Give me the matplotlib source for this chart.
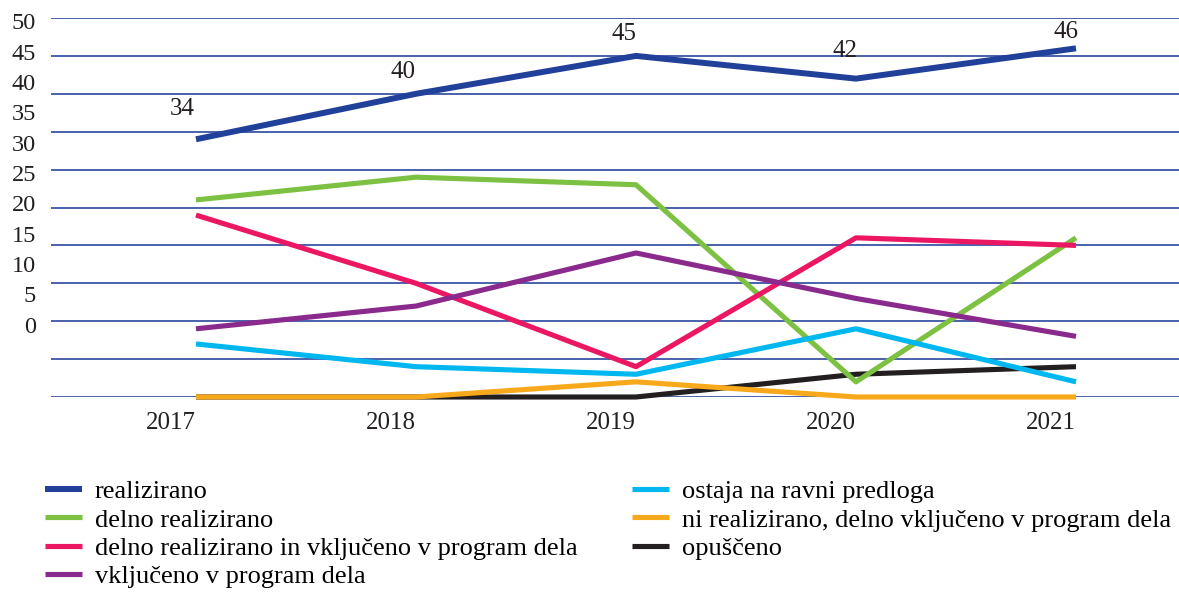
import matplotlib.pyplot as plt

years = ["2017", "2018", "2019", "2020", "2021"]

realizirano = [34, 40, 45, 42, 46]
delno_realizirano = [26, 29, 28, 2, 21]
delno_in_program = [24, 15, 4, 21, 20]
v_program = [9, 12, 19, 13, 8]
ostaja = [7, 4, 3, 9, 2]
ni_realizirano = [0, 0, 2, 0, 0]
opusceno = [0, 0, 0, 3, 4]

series = [
    ("realizirano", realizirano, "#21409a", 4.3, 5),
    ("delno realizirano", delno_realizirano, "#7cc142", 3.7, 4),
    ("delno realizirano in vključeno v program dela", delno_in_program, "#ec1763", 3.7, 4),
    ("vključeno v program dela", v_program, "#8a2a8c", 3.7, 4),
    ("ostaja na ravni predloga", ostaja, "#00b7ef", 3.7, 4),
    ("ni realizirano, delno vključeno v program dela", ni_realizirano, "#f8a81b", 3.7, 4),
    ("opuščeno", opusceno, "#231f20", 3.7, 3),
]

# tick labels in the source sit off the gridlines (baseline positions)
ytick_pos = [8.5, 12.5, 16.5, 20.5, 24.5, 28.5, 32.5, 36.5, 40.5, 44.5, 48.5]
ytick_labels = ["0", "5", "10", "15", "20", "25", "30", "35", "40", "45", "50"]
label_offsets = [(-14, 30), (-13, 22), (-12, 22), (-11, 28), (-10, 16)]

plt.rcParams["font.family"] = ["Liberation Serif", "DejaVu Serif"]
txt = "#231f20"

fig = plt.figure(figsize=(11.79, 5.92), dpi=100)
ax = fig.add_axes([51 / 1179, 1 - 397 / 592, 1128 / 1179, 379 / 592])

x = list(range(len(years)))
for name, vals, color, lw, z in series:
    ax.plot(x, vals, color=color, lw=lw, label=name, zorder=z,
            clip_on=False, solid_capstyle="butt")

for xi, v, (dx, dy) in zip(x, realizirano, label_offsets):
    ax.annotate(str(v), (xi, v), xytext=(dx * 0.72, dy * 0.72),
                textcoords="offset points", ha="center", va="center",
                fontsize=18, color=txt)

ax.set_xlim(-145 / 220, 4 + 103 / 220)
ax.set_ylim(0, 50)
ax.set_yticks(range(0, 51, 5))
ax.set_yticklabels([])
ax.yaxis.grid(True, color="#3a55a5", lw=1.3)
ax.set_axisbelow(True)
for sp in ax.spines.values():
    sp.set_visible(False)
ax.tick_params(length=0)

for p, lab in zip(ytick_pos, ytick_labels):
    ax.text(-15 / 1128, p, lab, transform=ax.get_yaxis_transform(),
            ha="right", va="baseline", fontsize=17.5, color=txt)

ax.set_xticks(x)
ax.set_xticklabels(years, fontsize=18, color=txt, ha="right")
ax.tick_params(axis="x", pad=11)

fig.legend(loc="upper left", bbox_to_anchor=(45 / 1179, 1 - 480 / 592),
           ncol=2, frameon=False, fontsize=19, handlelength=1.4,
           handletextpad=0.49, columnspacing=2.08, labelspacing=0.18,
           borderaxespad=0, borderpad=0)

fig.savefig("out.png", dpi=100)
